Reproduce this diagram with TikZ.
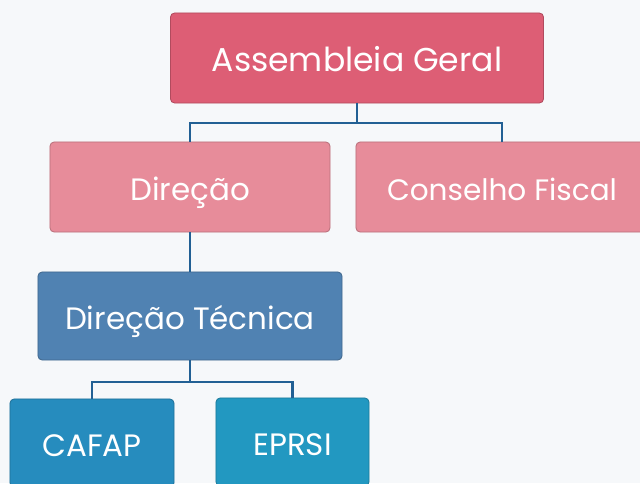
\documentclass[tikz,border=0pt]{standalone}
\usepackage{fontspec}
\setsansfont{Poppins}
\definecolor{bgpaper}{RGB}{246,248,250}
\definecolor{agred}{RGB}{221,94,117}
\definecolor{dirpink}{RGB}{231,140,154}
\definecolor{dtblue}{RGB}{80,130,178}
\definecolor{cafapblue}{RGB}{38,140,190}
\definecolor{eprsiblue}{RGB}{34,152,193}
\definecolor{linkblue}{RGB}{34,96,148}
\begin{document}
\begin{tikzpicture}[x=0.025cm, y=-0.025cm, font=\sffamily\fontsize{22}{26}\selectfont, every node/.style={text=white, rounded corners=3pt, inner sep=0pt, outer sep=0pt, anchor=center, text height=0.75cm, text depth=0.1cm}, orgbox/.style={fill=#1, draw=#1!80!black, line width=0.6pt}, link/.style={draw=linkblue, line width=1.5pt}]
        % Background
        \fill[bgpaper] (0, 0) rectangle (640, 483);
        \clip (0, 0) rectangle (640, 483);

        % Level 1
        \node[orgbox=agred, minimum width=9.325cm, minimum height=2.25cm, font=\sffamily\fontsize{23.5}{28}\selectfont] (ag) at (357, 58) {Assembleia Geral};

        % Level 2
        \node[orgbox=dirpink, minimum width=7cm, minimum height=2.25cm] (dir) at (190, 187) {Direção};
        \node[orgbox=dirpink, minimum width=7.3cm, minimum height=2.25cm, font=\sffamily\fontsize{21}{26}\selectfont] (cf) at (502, 187) {Conselho Fiscal};
        \coordinate (j1) at (357, 123);
        \draw[link] (ag.south) -- (j1);
        \draw[link] (dir.north) |- (j1) -| (cf.north);

        % Level 3
        \node[orgbox=dtblue, minimum width=7.6cm, minimum height=2.2cm] (dt) at (190, 316) {Direção Técnica};
        \draw[link] (dir.south) -- (dt.north);

        % Level 4
        \node[orgbox=cafapblue, minimum width=4.1cm, minimum height=2.2cm] (cafap) at (92, 443) {CAFAP};
        \node[orgbox=eprsiblue, minimum width=3.825cm, minimum height=2.2cm] (eprsi) at (292.5, 442) {EPRSI};
        \coordinate (j2) at (190, 382);
        \draw[link] (dt.south) -- (j2);
        \draw[link] (cafap.north) |- (j2) -| (eprsi.north);
\end{tikzpicture}
\end{document}
